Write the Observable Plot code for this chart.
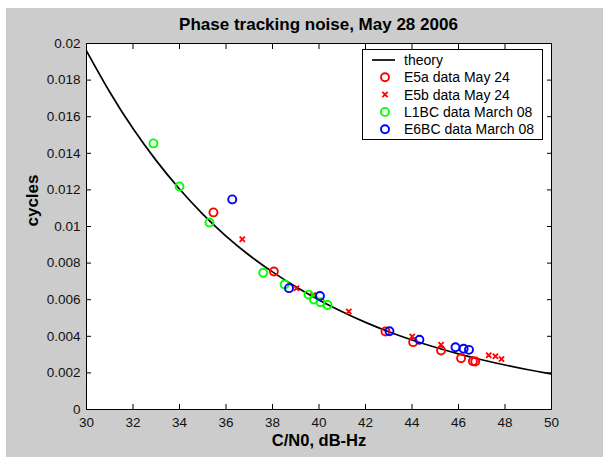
<!DOCTYPE html>
<html>
<head>
<meta charset="utf-8">
<script src="https://cdn.jsdelivr.net/npm/d3@7"></script>
<script src="https://cdn.jsdelivr.net/npm/@observablehq/plot@0.6"></script>
<style>
html, body { margin: 0; padding: 0; background: #fff; }
#fig { position: absolute; left: 6px; top: 8px; width: 597px; height: 449px; background: #cccccc;
  font-family: Arial, "Liberation Sans", sans-serif; overflow: hidden; }
#title { position: absolute; left: 0; width: 625px; top: 7px; text-align: center; font-weight: bold;
  font-size: 17px; line-height: 20px; color: #000; }
#chart { position: absolute; left: 0; top: 0; }
#legend { position: absolute; left: 356px; top: 41px; width: 181px; height: 91px; box-sizing: border-box;
  background: #fff; border: 1px solid #000; }
</style>
</head>
<body>
<div id="fig">
  <div id="chart"></div>
  <div id="title">Phase tracking noise, May 28 2006</div>
  <div id="legend"></div>
</div>
<script>
// ---- data ----
const xTicks = [30, 32, 34, 36, 38, 40, 42, 44, 46, 48, 50];
const yTicks = [0, 0.002, 0.004, 0.006, 0.008, 0.01, 0.012, 0.014, 0.016, 0.018, 0.02];

const theoryCn0 = [30, 31, 32, 33, 34, 35, 36, 37, 38, 39, 40, 41, 42, 43, 44, 45, 46, 47, 48, 49, 50];
const theoryCycles = [0.01960, 0.01735, 0.01535, 0.01360, 0.01205, 0.01068, 0.00948, 0.00843, 0.00752, 0.00671,
  0.00599, 0.00534, 0.00476, 0.00425, 0.00380, 0.00340, 0.00304, 0.00272, 0.00243, 0.00217, 0.00194];

const e5aCn0 =    [35.46, 38.06, 42.86, 44.05, 45.25, 46.11, 46.62, 46.72];
const e5aCycles = [0.01077, 0.00754, 0.00426, 0.00368, 0.00322, 0.00280, 0.00264, 0.00262];

const e5bCn0 =    [36.70, 39.03, 39.75, 41.28, 44.01, 45.25, 47.30, 47.59, 47.85];
const e5bCycles = [0.00930, 0.00663, 0.00625, 0.00536, 0.00399, 0.00354, 0.00296, 0.00291, 0.00276];

const l1bcCn0 =    [32.88, 34.00, 35.29, 37.60, 38.52, 39.55, 39.78, 40.06, 40.37];
const l1bcCycles = [0.01454, 0.01219, 0.01022, 0.00747, 0.00683, 0.00628, 0.00601, 0.00586, 0.00571];

const e6bcCn0 =    [36.27, 38.71, 40.04, 43.03, 44.32, 45.87, 46.22, 46.45];
const e6bcCycles = [0.01148, 0.00663, 0.00620, 0.00428, 0.00381, 0.00340, 0.00332, 0.00326];

const seriesNames = ["theory", "E5a data May 24", "E5b data May 24", "L1BC data March 08", "E6BC data March 08"];

// ---- build tables ----
const zip = (xs, ys) => xs.map((x, i) => ({x, y: ys[i]}));
const theory = zip(theoryCn0, theoryCycles);
const e5a = zip(e5aCn0, e5aCycles);
const e5b = zip(e5bCn0, e5bCycles);
const l1bc = zip(l1bcCn0, l1bcCycles);
const e6bc = zip(e6bcCn0, e6bcCycles);

const RED = "#ff0000", GREEN = "#00ff00", BLUE = "#0000ff";
const fmt = d => String(+d.toFixed(3));
const font = "Arial, 'Liberation Sans', sans-serif";

const chart = Plot.plot({
  width: 597,
  height: 449,
  marginLeft: 80,
  marginRight: 52,
  marginTop: 35,
  marginBottom: 48,
  style: {background: "transparent", fontFamily: font, fontSize: "13.5px", color: "#000", overflow: "visible"},
  x: {domain: [30, 50]},
  y: {domain: [0, 0.02]},
  marks: [
    Plot.frame({fill: "#fff", stroke: null}),
    Plot.line(theory, {x: "x", y: "y", stroke: "#000", strokeWidth: 1.7, curve: "natural", clip: true}),
    Plot.dot(e5a, {x: "x", y: "y", r: 4, stroke: RED, strokeWidth: 1.9, fill: "none"}),
    Plot.dot(e5b, {x: "x", y: "y", r: 2.5, symbol: "times", stroke: RED, strokeWidth: 1.8}),
    Plot.dot(l1bc, {x: "x", y: "y", r: 4, stroke: GREEN, strokeWidth: 1.9, fill: "none"}),
    Plot.dot(e6bc, {x: "x", y: "y", r: 4, stroke: BLUE, strokeWidth: 1.9, fill: "none"}),
    Plot.axisX({ticks: xTicks, tickSize: -5, tickPadding: 13, tickFormat: d => String(d), label: null, stroke: "#000", fill: "#111"}),
    Plot.axisX({anchor: "top", ticks: xTicks, tickSize: -5, tickFormat: () => "", label: null, stroke: "#000"}),
    Plot.axisY({ticks: yTicks, tickSize: -5, tickPadding: 11, tickFormat: fmt, label: null, stroke: "#000", fill: "#111"}),
    Plot.axisY({anchor: "right", ticks: yTicks, tickSize: -5, tickFormat: () => "", label: null, stroke: "#000"}),
    Plot.frame({stroke: "#000", strokeWidth: 1}),
    Plot.text(["C/N0, dB-Hz"], {frameAnchor: "bottom", dy: 36, fontWeight: "bold", fontSize: 16.5, fill: "#000"}),
    Plot.text(["cycles"], {frameAnchor: "left", dx: -54, rotate: -90, fontWeight: "bold", fontSize: 17, fill: "#000"})
  ]
});
document.getElementById("chart").appendChild(chart);

// ---- legend ----
const lg = d3.select("#legend").append("svg")
  .attr("width", 179).attr("height", 89)
  .style("display", "block")
  .style("font-family", font).style("font-size", "14px");
const rowY = i => 10 + i * 17.3;
seriesNames.forEach((name, i) => {
  const g = lg.append("g").attr("transform", `translate(0,${rowY(i)})`);
  if (i === 0) {
    g.append("line").attr("x1", 9).attr("x2", 32).attr("y1", 0).attr("y2", 0)
      .attr("stroke", "#000").attr("stroke-width", 1.7);
  } else if (i === 2) {
    g.append("path").attr("transform", "translate(22,0)")
      .attr("d", d3.symbol(d3.symbolTimes, 2.5 * 2.5 * Math.PI)())
      .attr("stroke", RED).attr("stroke-width", 1.8).attr("fill", "none");
  } else {
    const c = i === 1 ? RED : i === 3 ? GREEN : BLUE;
    g.append("circle").attr("cx", 22).attr("cy", 0).attr("r", 4)
      .attr("stroke", c).attr("stroke-width", 1.9).attr("fill", "none");
  }
  g.append("text").attr("x", 41).attr("y", 0).attr("dy", "0.35em").text(name).attr("fill", "#000");
});
</script>
</body>
</html>
